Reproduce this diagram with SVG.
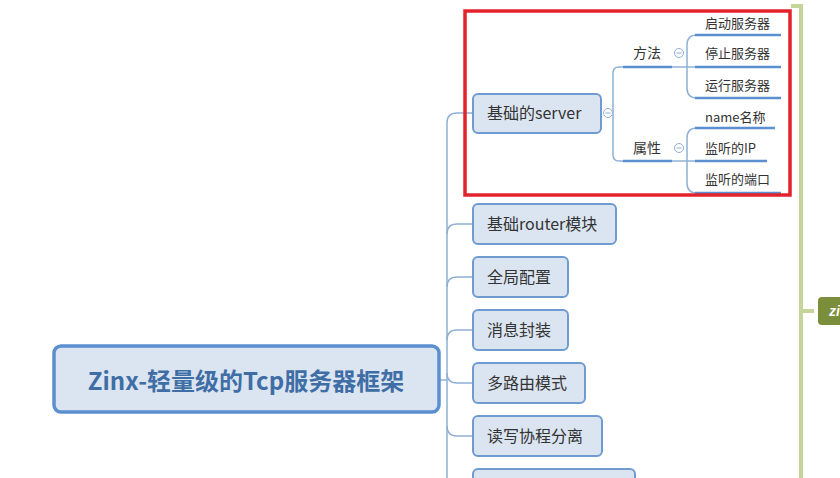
<svg xmlns="http://www.w3.org/2000/svg" width="840" height="478" viewBox="0 0 840 478">
<style>
.node rect{fill:#dbe5f1;stroke:#6f9bd1;stroke-width:2}
.t{font-family:"Noto Sans CJK SC","Microsoft YaHei",sans-serif;fill:#333;font-size:16px}
.s{font-size:14px}
.c{font-size:13px}
.conn path{fill:none;stroke:#8fb0d4;stroke-width:1.5}
.ul{stroke:#5b8fd0;stroke-width:2.5}
.fold circle{fill:#fff;stroke:#8fb0d4;stroke-width:1}
.fold line{stroke:#8fb0d4;stroke-width:1}
</style>
<rect width="840" height="478" fill="#fff"/>
<!-- right green line -->
<g id="green-branch">
<path d="M791,6 H801 V478" fill="none" stroke="#c5d59a" stroke-width="4"/>
<line x1="801" y1="311" x2="814" y2="311" stroke="#c5d59a" stroke-width="4"/>
<rect x="818" y="297" width="30" height="28" rx="4" fill="#7b8e3b"/>
<text x="829" y="316" font-family="Liberation Sans,sans-serif" font-size="14" font-style="italic" font-weight="bold" fill="#fff">zi</text>
</g>
<g id="connectors" class="conn">
<path d="M440,380 H447"/>
<path d="M472,113 H457 Q447,113 447,123 V478"/>
<path d="M447,234 Q447,224 457,224 H472"/>
<path d="M447,287 Q447,277 457,277 H472"/>
<path d="M447,340 Q447,330 457,330 H472"/>
<path d="M447,373 Q447,383 457,383 H472"/>
<path d="M447,426 Q447,436 457,436 H472"/>
<path d="M447,479 Q447,489 457,489 H472"/>
<path d="M604,113 H613"/>
<path d="M623,67 H619 Q613,67 613,73 V155 Q613,161 619,161 H623"/>
<path d="M672,67 H695"/>
<path d="M687,67 Q687,61 687,55 V45 Q687,35 697,35"/>
<path d="M687,67 Q687,73 687,79 V88 Q687,98 697,98"/>
<path d="M672,161 H695"/>
<path d="M687,161 Q687,155 687,149 V138 Q687,128 697,128"/>
<path d="M687,161 Q687,167 687,173 V183 Q687,193 697,193"/>
</g>
<g id="root" class="node">
<rect x="54" y="346" width="385" height="66" rx="7" style="stroke:#5b8fd0;stroke-width:3.5"/>
<text x="246" y="390" text-anchor="middle" class="t" style="font-size:24px;font-weight:bold;fill:#3f6ea6">Zinx-轻量级的Tcp服务器框架</text>
</g>
<g id="n-server" class="node">
<rect x="473" y="94" width="128" height="39" rx="5"/>
<text x="487" y="119" class="t">基础的server</text>
</g>
<g id="fold-server" class="fold"><circle cx="608" cy="113" r="4.5"/><line x1="605.5" y1="113" x2="610.5" y2="113"/></g>
<g id="n-method">
<line x1="623" y1="67" x2="672" y2="67" class="ul"/>
<text x="633" y="58" class="t s">方法</text>
</g>
<g id="fold-method" class="fold"><circle cx="679" cy="53" r="4.5"/><line x1="676.5" y1="53" x2="681.5" y2="53"/></g>
<g id="n-attr">
<line x1="623" y1="161" x2="672" y2="161" class="ul"/>
<text x="633" y="153" class="t s">属性</text>
</g>
<g id="fold-attr" class="fold"><circle cx="679" cy="148" r="4.5"/><line x1="676.5" y1="148" x2="681.5" y2="148"/></g>
<g id="n-start"><line x1="695" y1="35" x2="781" y2="35" class="ul"/><text x="705" y="27.5" class="t c">启动服务器</text></g>
<g id="n-stop"><line x1="695" y1="67" x2="781" y2="67" class="ul"/><text x="705" y="57.5" class="t c">停止服务器</text></g>
<g id="n-run"><line x1="695" y1="98" x2="781" y2="98" class="ul"/><text x="705" y="89.5" class="t c">运行服务器</text></g>
<g id="n-name"><line x1="695" y1="128" x2="775" y2="128" class="ul"/><text x="705" y="121.5" class="t c">name名称</text></g>
<g id="n-ip"><line x1="695" y1="161" x2="767" y2="161" class="ul"/><text x="705" y="152.5" class="t c">监听的IP</text></g>
<g id="n-port"><line x1="695" y1="193" x2="781" y2="193" class="ul"/><text x="705" y="183.5" class="t c">监听的端口</text></g>
<g id="n-router" class="node"><rect x="473" y="204" width="143" height="40" rx="5"/><text x="487" y="229.5" class="t">基础router模块</text></g>
<g id="n-config" class="node"><rect x="473" y="257" width="95" height="40" rx="5"/><text x="487" y="282.5" class="t">全局配置</text></g>
<g id="n-msg" class="node"><rect x="473" y="310" width="95" height="40" rx="5"/><text x="487" y="335.5" class="t">消息封装</text></g>
<g id="n-multi" class="node"><rect x="473" y="363" width="112" height="40" rx="5"/><text x="487" y="388.5" class="t">多路由模式</text></g>
<g id="n-rw" class="node"><rect x="473" y="416" width="129" height="40" rx="5"/><text x="487" y="441.5" class="t">读写协程分离</text></g>
<g id="n-next" class="node"><rect x="473" y="469" width="162" height="40" rx="5"/></g>
<rect id="highlight" x="465" y="11" width="325" height="184" fill="none" stroke="#e3232b" stroke-width="3.5"/>
</svg>
